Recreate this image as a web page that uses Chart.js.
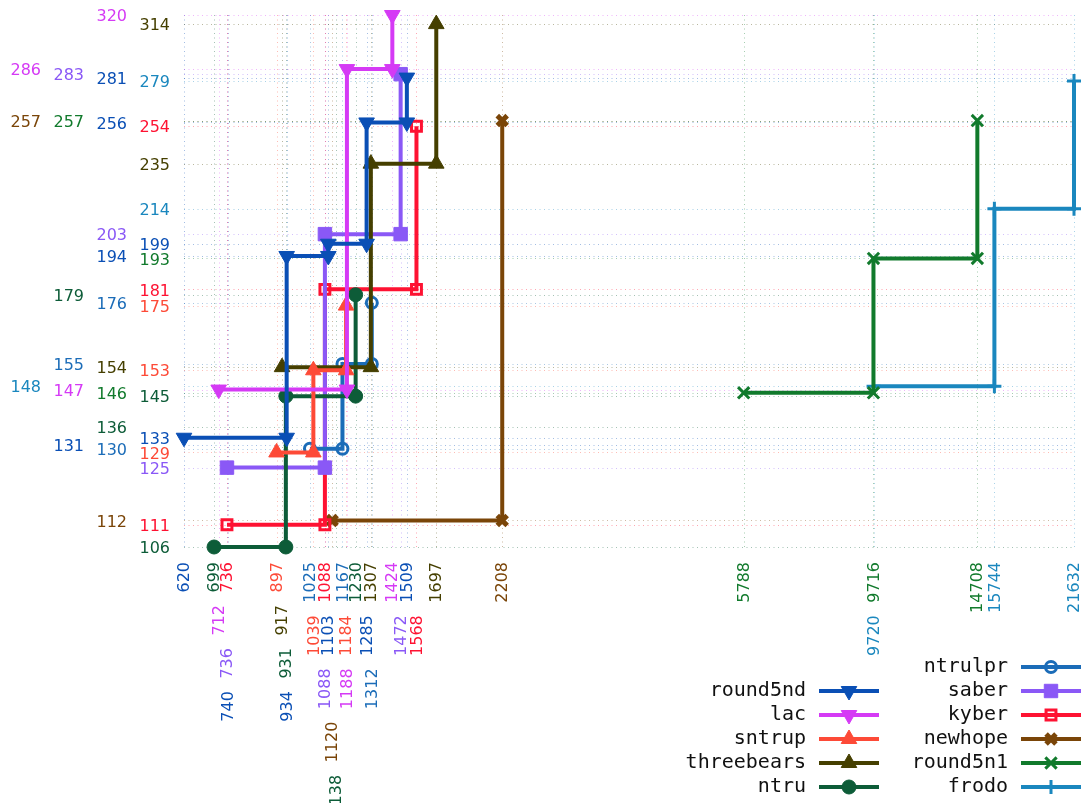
<!DOCTYPE html>
<html lang="en">
<head>
    <meta charset="UTF-8">
    <title>Size vs security</title>
    <script src="https://cdn.jsdelivr.net/npm/chart.js"></script>
    <style>
        body { margin: 0; background: #fff; }
        #caja { position: relative; width: 1086px; height: 803px; }
    </style>
</head>
<body>
    <div id="caja"><canvas id="grafica"></canvas></div>

    <script>
        // bytes (x) and security (y) for every parameter set
        const round5ndX = [620, 740, 934, 1103, 1285, 1509];
        const round5ndY = [133, 131, 194, 199, 256, 281];
        const lacX = [712, 1188, 1424];
        const lacY = [147, 286, 320];
        const sntrupX = [897, 1039, 1184];
        const sntrupY = [129, 153, 175];
        const threebearsX = [917, 1307, 1697];
        const threebearsY = [154, 235, 314];
        const ntruX = [699, 931, 1138, 1230];
        const ntruY = [106, 145, 136, 179];
        const ntrulprX = [1025, 1167, 1312];
        const ntrulprY = [130, 155, 176];
        const saberX = [736, 1088, 1472];
        const saberY = [125, 203, 283];
        const kyberX = [736, 1088, 1568];
        const kyberY = [111, 181, 254];
        const newhopeX = [1120, 2208];
        const newhopeY = [112, 257];
        const round5n1X = [5788, 9716, 14708];
        const round5n1Y = [146, 193, 257];
        const frodoX = [9720, 15744, 21632];
        const frodoY = [148, 214, 279];

        const series = [
            { name: 'round5nd', xs: round5ndX, ys: round5ndY, color: '#0a4fb5', style: 'triangle', rot: 180, r: 9, bw: 1, bg: null },
            { name: 'lac', xs: lacX, ys: lacY, color: '#d53af5', style: 'triangle', rot: 180, r: 9, bw: 1, bg: null },
            { name: 'sntrup', xs: sntrupX, ys: sntrupY, color: '#fd4a37', style: 'triangle', rot: 0, r: 9, bw: 1, bg: null },
            { name: 'threebears', xs: threebearsX, ys: threebearsY, color: '#453f00', style: 'triangle', rot: 0, r: 9, bw: 1, bg: null },
            { name: 'ntru', xs: ntruX, ys: ntruY, color: '#0d5c38', style: 'circle', rot: 0, r: 7, bw: 1, bg: null },
            { name: 'ntrulpr', xs: ntrulprX, ys: ntrulprY, color: '#1b6cb8', style: 'circle', rot: 0, r: 5.5, bw: 3, bg: 'rgba(0,0,0,0)' },
            { name: 'saber', xs: saberX, ys: saberY, color: '#8a58f6', style: 'rect', rot: 0, r: 9.5, bw: 1, bg: null },
            { name: 'kyber', xs: kyberX, ys: kyberY, color: '#fe1232', style: 'rect', rot: 0, r: 7, bw: 3, bg: 'rgba(0,0,0,0)' },
            { name: 'newhope', xs: newhopeX, ys: newhopeY, color: '#7a4508', style: 'crossRot', rot: 0, r: 7, bw: 5, bg: null },
            { name: 'round5n1', xs: round5n1X, ys: round5n1Y, color: '#117a2c', style: 'crossRot', rot: 0, r: 8, bw: 3, bg: null },
            { name: 'frodo', xs: frodoX, ys: frodoY, color: '#1a87be', style: 'cross', rot: 0, r: 7, bw: 3, bg: null }
        ];

        // staircase through the best points (more bytes must buy more security)
        function escalera(xs, ys) {
            const pts = xs.map((x, i) => ({ x: x, y: ys[i] })).sort((a, b) => a.x - b.x);
            const frente = [];
            pts.forEach(p => {
                if (!frente.length || p.y > frente[frente.length - 1].y) frente.push(p);
            });
            const out = [];
            frente.forEach((p, i) => {
                out.push(p);
                if (i + 1 < frente.length) out.push({ x: frente[i + 1].x, y: p.y });
            });
            return out;
        }

        const FUENTE = '16px "DejaVu Sans"';

        function linea(ctx, x1, y1, x2, y2) {
            ctx.beginPath();
            ctx.moveTo(x1, y1);
            ctx.lineTo(x2, y2);
            ctx.stroke();
        }

        function marcador(ctx, s, x, y) {
            ctx.save();
            ctx.setLineDash([]);
            ctx.lineWidth = s.bw;
            ctx.strokeStyle = s.color;
            ctx.fillStyle = s.bg || s.color;
            Chart.helpers.drawPoint(ctx, { pointStyle: s.style, rotation: s.rot, radius: s.r, borderWidth: s.bw }, x, y);
            ctx.restore();
        }

        const etiquetas = {
            id: 'etiquetas',
            beforeDatasetsDraw(chart) {
                const { ctx, chartArea: a, scales: { x, y } } = chart;
                ctx.save();
                ctx.lineWidth = 1;
                ctx.setLineDash([1, 3.5]);
                series.forEach(s => {
                    ctx.strokeStyle = s.color + '60';
                    s.xs.forEach(v => {
                        const px = Math.round(x.getPixelForValue(v)) + 0.5;
                        linea(ctx, px, a.top, px, a.bottom);
                    });
                    s.ys.forEach(v => {
                        const py = Math.round(y.getPixelForValue(v)) + 0.5;
                        linea(ctx, a.left, py, a.right, py);
                    });
                });
                ctx.restore();
            },
            afterDraw(chart) {
                const { ctx, chartArea: a, scales: { x, y } } = chart;
                ctx.save();
                ctx.font = FUENTE;

                // y labels, pushed into columns to the left when they collide
                const yItems = [];
                series.slice().reverse().forEach(s => s.ys.forEach(v => yItems.push({ v: v, color: s.color })));
                yItems.sort((p, q) => p.v - q.v);
                const colocY = [];
                ctx.textAlign = 'right';
                ctx.textBaseline = 'middle';
                yItems.forEach(it => {
                    const py = y.getPixelForValue(it.v);
                    let col = 0;
                    while (colocY.some(p => p.col === col && Math.abs(p.py - py) < 13)) col++;
                    colocY.push({ py: py, col: col });
                    ctx.fillStyle = it.color;
                    ctx.fillText(String(it.v), a.left - 14 - col * 43, py + 2);
                });

                // x labels, rotated and stacked downwards when they collide
                const xItems = [];
                series.slice().reverse().forEach(s => s.xs.forEach(v => xItems.push({ v: v, color: s.color })));
                xItems.sort((p, q) => p.v - q.v);
                const colocX = [];
                const hueco = 12.5;
                xItems.forEach(it => {
                    const txt = String(it.v);
                    const px = x.getPixelForValue(it.v);
                    const w = ctx.measureText(txt).width;
                    let top = a.bottom + 15;
                    let movido = true;
                    while (movido) {
                        movido = false;
                        for (const p of colocX) {
                            if (Math.abs(p.px - px) < 12.5 && top < p.bottom + hueco && top + w + hueco > p.top) {
                                top = p.bottom + hueco;
                                movido = true;
                            }
                        }
                    }
                    colocX.push({ px: px, top: top, bottom: top + w });
                    ctx.save();
                    ctx.translate(px + 1, top);
                    ctx.rotate(-Math.PI / 2);
                    ctx.textAlign = 'right';
                    ctx.textBaseline = 'middle';
                    ctx.fillStyle = it.color;
                    ctx.fillText(txt, 0, 0);
                    ctx.restore();
                });

                // legend: two columns, name on the left of the sample
                ctx.font = '20px "DejaVu Sans Mono"';
                ctx.textAlign = 'right';
                ctx.textBaseline = 'middle';
                const entrada = (s, tx, x1, x2, yy) => {
                    ctx.fillStyle = '#111';
                    ctx.fillText(s.name, tx, yy);
                    ctx.strokeStyle = s.color;
                    ctx.lineWidth = 4;
                    ctx.setLineDash([]);
                    linea(ctx, x1, yy, x2, yy);
                    marcador(ctx, s, (x1 + x2) / 2, yy);
                };
                series.slice(0, 5).forEach((s, i) => entrada(s, 806, 819, 879, 691 + 24 * i));
                series.slice(5).forEach((s, i) => entrada(s, 1008, 1021, 1081, 667 + 24 * i));
                ctx.restore();
            }
        };

        const ctx = document.getElementById('grafica').getContext('2d');
        new Chart(ctx, {
            type: 'line',
            data: {
                datasets: series.map(s => ({
                    label: s.name,
                    data: escalera(s.xs, s.ys),
                    borderColor: s.color,
                    borderWidth: 4,
                    fill: false,
                    tension: 0,
                    clip: false,
                    pointStyle: s.style,
                    pointRotation: s.rot,
                    pointRadius: s.r,
                    pointBorderWidth: s.bw,
                    pointBorderColor: s.color,
                    pointBackgroundColor: s.bg || s.color
                }))
            },
            options: {
                responsive: true,
                maintainAspectRatio: false,
                animation: false,
                layout: { padding: { left: 184, right: 11, top: 15, bottom: 256 } },
                plugins: { legend: { display: false }, tooltip: { enabled: false } },
                scales: {
                    x: { type: 'logarithmic', min: 620, max: 21632, display: false },
                    y: { type: 'logarithmic', min: 106, max: 320, display: false }
                }
            },
            plugins: [etiquetas]
        });
    </script>
</body>
</html>
